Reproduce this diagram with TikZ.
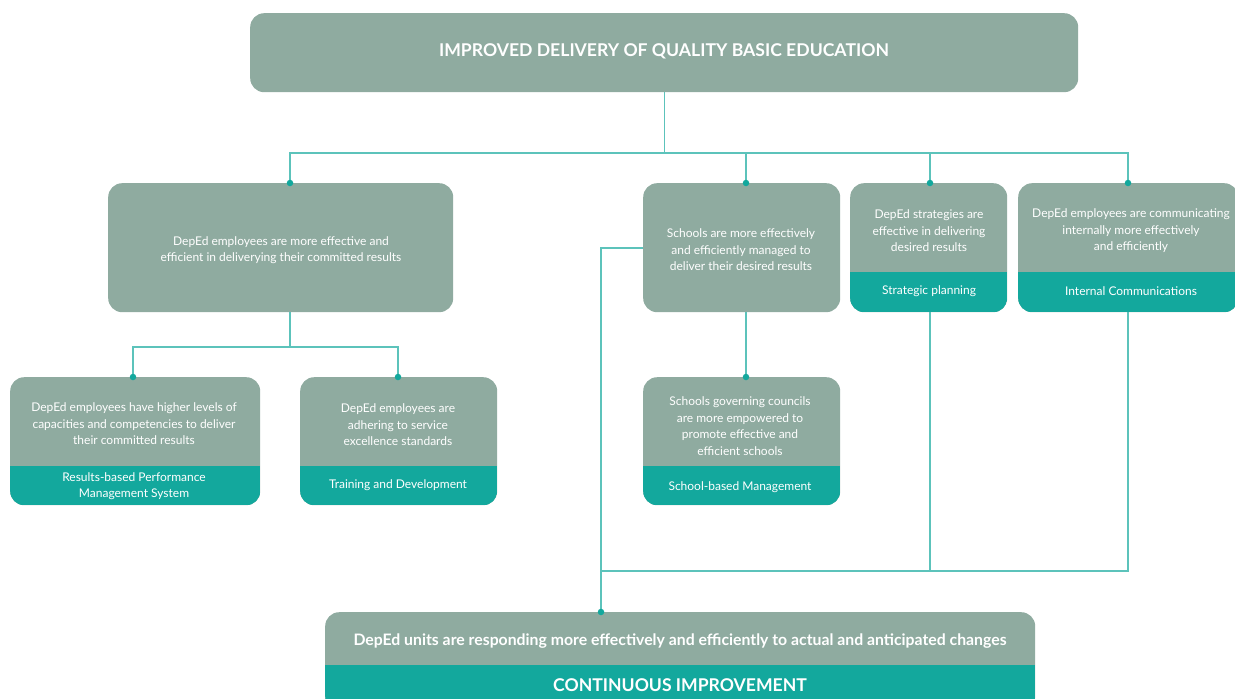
\documentclass[tikz,border=0pt]{standalone}
\usepackage{fontspec}
\setmainfont{Lato}
\definecolor{cardgray}{HTML}{8FABA0}
\definecolor{bandteal}{HTML}{13A89D}
\definecolor{linkteal}{HTML}{5CC3BB}
\definecolor{dotteal}{HTML}{13A89D}
\begin{document}
\begin{tikzpicture}[x=1pt,y=-1pt,
  card/.style={fill=cardgray, rounded corners=14pt, anchor=north west, inner sep=0pt, draw=none},
  tealband/.style={path picture={\fill[bandteal, sharp corners] ([yshift=#1]path picture bounding box.south west) rectangle (path picture bounding box.south east);}},
  txt/.style={text=white, align=center, font=\fontsize{12}{16.5}\selectfont, inner sep=0pt},
  link/.style={draw=linkteal, line width=1.2pt},
  dot/.style={circle, fill=dotteal, inner sep=0pt, minimum size=6.5pt}]
\clip (0,0) rectangle (1235,699);

% boxes
\node[card, minimum width=828pt, minimum height=79pt] (T) at (250,13) {};
\node[card, minimum width=345pt, minimum height=129pt] (A) at (108,183) {};
\node[card, minimum width=197pt, minimum height=129pt] (B) at (643,183) {};
\node[card, tealband=40pt, minimum width=157pt, minimum height=129pt] (C) at (850,183) {};
\node[card, tealband=40pt, minimum width=220pt, minimum height=129pt] (D) at (1018,183) {};
\node[card, tealband=39pt, minimum width=250pt, minimum height=128pt] (E) at (10,377) {};
\node[card, tealband=39pt, minimum width=197pt, minimum height=128pt] (F) at (300,377) {};
\node[card, tealband=39pt, minimum width=197pt, minimum height=128pt] (G) at (643,377) {};
\node[card, tealband=45pt, minimum width=710pt, minimum height=98pt] (U) at (325,612) {};

% texts
\node[txt, font=\fontsize{17.6}{20}\selectfont\bfseries] (Tt) at (664,51) {IMPROVED DELIVERY OF QUALITY BASIC EDUCATION};
\node[txt] (At) at (281,250) {DepEd employees are more effective and\\efficient in deliverying their committed results};
\node[txt] (Bt) at (741,250) {Schools are more effectively\\and efficiently managed to\\deliver their desired results};
\node[txt] (Ct) at (929,231) {DepEd strategies are\\effective in delivering\\desired results};
\node[txt] (Cb) at (929,291) {Strategic planning};
\node[txt] (Dt) at (1131,231) {DepEd employees are communicating\\internally more effectively\\and efficiently};
\node[txt] (Db) at (1131,291) {Internal Communications};
\node[txt] (Et) at (134,424) {DepEd employees have higher levels of\\capacities and competencies to deliver\\their committed results};
\node[txt] (Eb) at (134,486) {Results-based Performance\\Management System};
\node[txt] (Ft) at (398,425) {DepEd employees are\\adhering to service\\excellence standards};
\node[txt] (Fb) at (398,485) {Training and Development};
\node[txt] (Gt) at (740,426) {Schools governing councils\\are more empowered to\\promote effective and\\efficient schools};
\node[txt] (Gb) at (740,487) {School-based Management};
\node[txt, font=\fontsize{15.8}{18}\selectfont\bfseries] (Ut) at (680,641) {DepEd units are responding more effectively and efficiently to actual and anticipated changes};
\node[txt, font=\fontsize{17.6}{20}\selectfont\bfseries] (Ub) at (680,685) {CONTINUOUS IMPROVEMENT};

% junction points
\coordinate (busA) at (290,153);
\coordinate (busD) at (1128,153);
\coordinate (jA) at (290,183);
\coordinate (jB) at (746,183);
\coordinate (jC) at (930,183);
\coordinate (jD) at (1128,183);
\coordinate (subE) at (133,347);
\coordinate (subF) at (398,347);
\coordinate (jE) at (133,377);
\coordinate (jF) at (398,377);
\coordinate (jG) at (746,377);
\coordinate (jU) at (601,612);
\coordinate (turnB) at (601,248);
\coordinate (lowC) at (930,571);
\coordinate (lowD) at (1128,571);
\coordinate (lowU) at (601,571);

% connectors
\draw[link] (T.south) -- (T.south |- busA);
\draw[link] (jA) -- (busA) -- (busD) -- (jD);
\draw[link] (jB) -- (jB |- busA);
\draw[link] (jC) -- (jC |- busA);
\draw[link] (jA |- A.south) -- (jA |- subE);
\draw[link] (jE) -- (subE) -- (subF) -- (jF);
\draw[link] (jB |- B.south) -- (jG);
\draw[link] (B.west |- turnB) -- (turnB) -- (jU);
\draw[link] (jC |- C.south) -- (lowC);
\draw[link] (jD |- D.south) -- (lowD) -- (lowU);

% dots
\foreach \p in {jA,jB,jC,jD,jE,jF,jG,jU}
  \node[dot] at (\p) {};
\end{tikzpicture}
\end{document}
